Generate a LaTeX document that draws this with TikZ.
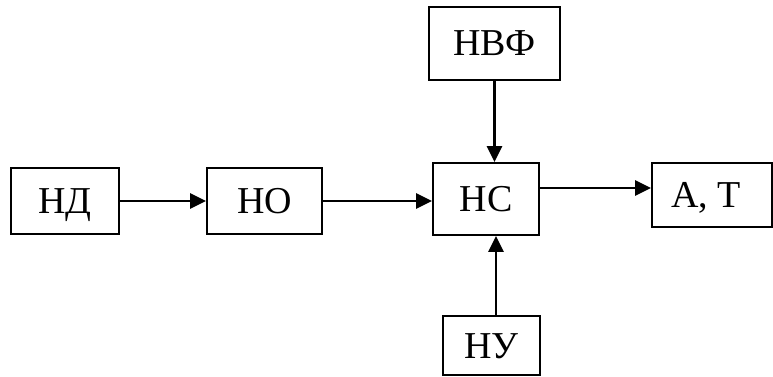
\documentclass[tikz,border=0pt]{standalone}
\usepackage{fontspec}
\setmainfont{Liberation Serif}
\usetikzlibrary{arrows.meta}
\tikzstyle{BlockNode}=[rectangle, draw=black, line width=1.8pt, inner sep=0pt, text height=25pt, text depth=0pt, font=\fontsize{38}{40}\selectfont]
\tikzstyle{OpenEdge}=[-{Triangle[length=16pt,width=15pt]}, line width=2.6pt]

\begin{document}
\begin{tikzpicture}[x=1pt, y=-1pt]
\useasboundingbox (0,0) rectangle (773,377);
\node[BlockNode, minimum width=108pt, minimum height=66pt](ND) at (65,201) {НД};
\node[BlockNode, minimum width=115pt, minimum height=66pt](NO) at (264.5,201) {НО};
\node[BlockNode, minimum width=106pt, minimum height=72pt](NS) at (486,199) {НС};
\node[BlockNode, minimum width=131pt, minimum height=73pt](NVF) at (494.5,43.5) {НВФ};
\node[BlockNode, minimum width=97pt, minimum height=59pt](NU) at (491.5,345.5) {НУ};
\node[BlockNode, minimum width=120pt, minimum height=64pt](AT) at (712,195) {\hspace*{-12pt}А, Т};

\draw[OpenEdge](ND) -- (NO);
\draw[OpenEdge](NO) -- (NO -| NS.west);
\draw[OpenEdge](NVF.south) -- (NVF.south |- NS.north);
\draw[OpenEdge]([xshift=4.5pt]NU.north) -- ([xshift=4.5pt]NU.north |- NS.south);
\draw[OpenEdge]([yshift=11pt]NS.east) -- ([yshift=11pt]NS.east -| AT.west);
\end{tikzpicture}
\end{document}
